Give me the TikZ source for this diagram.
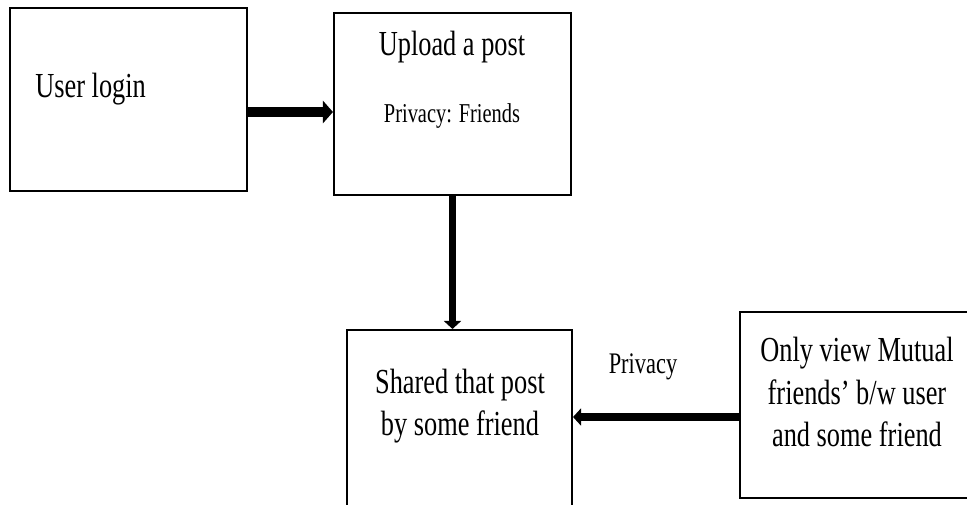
\documentclass[tikz,border=0pt]{standalone}
\usepackage{fontspec}
\setmainfont[FakeStretch=0.75]{Liberation Serif}
\usetikzlibrary{arrows.meta}

\tikzset{
  box/.style = {draw, line width = 1.2pt, inner sep = 0},
  bigtxt/.style = {font = \fontsize{20}{24}\selectfont, align = center, inner sep = 0},
  smalltxt/.style = {font = \fontsize{15.5}{18}\selectfont, inner sep = 0},
  flow/.style = {line width = 5pt, -{Triangle[length = 1.6mm, width = 3.4mm]}}
}

\begin{document}
\begin{tikzpicture}[x = .02cm, y = -.02cm]

    \clip (0,0) rectangle (967,504);
    % boxes
    \node [box, minimum width = 4.74cm, minimum height = 3.66cm] (login) at (128.5,99.5) {};
    \node [box, minimum width = 4.74cm, minimum height = 3.64cm] (upload) at (452.5,104) {};
    \node [box, minimum width = 4.5cm, minimum height = 4.8cm] (shared) at (459.5,450) {};
    \node [box, minimum width = 5cm, minimum height = 3.72cm] (view) at (865,405) {};
    % texts
    \node [bigtxt, anchor = base west] (logintxt) at (35,97) {User login};
    \node [bigtxt, anchor = base] (uploadtxt) at (452,55) {Upload a post};
    \node [smalltxt, anchor = base] (friendstxt) at (452,122) {Privacy: Friends};
    \node [bigtxt] (sharedtxt) at (460,406) {Shared that post\\by some friend};
    \node [bigtxt] (viewtxt) at (857,392) {Only view Mutual\\friends' b/w user\\and some friend};
    % arrows
    \draw [flow, line width = 6pt, -{Triangle[length = 2mm, width = 4.4mm]}] (login.east |- 0,112) -- (upload.west |- 0,112);
    \draw [flow, line width = 4.5pt] (upload.south) -- (upload.south |- shared.north);
    \draw [flow] (view.west |- 0,417) -- (shared.east |- 0,417);
    \node [smalltxt, font = \fontsize{17}{20}\selectfont, anchor = base] (privacy) at (643,373) {Privacy};
\end{tikzpicture}
\end{document}
